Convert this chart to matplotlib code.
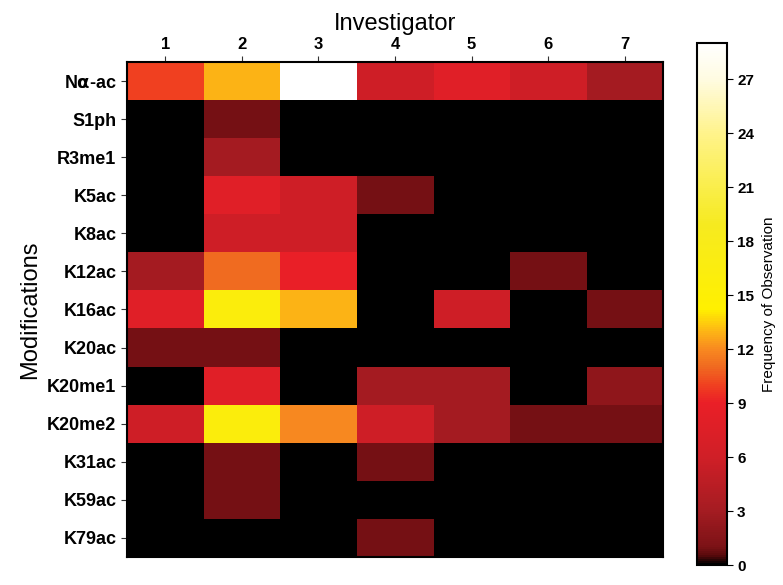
import numpy as np
import matplotlib
matplotlib.use('Agg')
import matplotlib.pyplot as plt
from matplotlib.colors import LinearSegmentedColormap

matplotlib.rcParams['font.family'] = ['Liberation Sans', 'DejaVu Sans']

investigators = ['1', '2', '3', '4', '5', '6', '7']
modifications = [r'N$\mathbf{\alpha}$-ac', 'S1ph', 'R3me1', 'K5ac', 'K8ac', 'K12ac',
                 'K16ac', 'K20ac', 'K20me1', 'K20me2', 'K31ac', 'K59ac', 'K79ac']

# frequency of observation, rows = modifications, cols = investigators 1..7
freq_na_ac  = [10, 13, 29, 6, 8, 6, 3]
freq_s1ph   = [0, 1, 0, 0, 0, 0, 0]
freq_r3me1  = [0, 3, 0, 0, 0, 0, 0]
freq_k5ac   = [0, 8, 6, 1, 0, 0, 0]
freq_k8ac   = [0, 6, 6, 0, 0, 0, 0]
freq_k12ac  = [3, 11, 9, 0, 0, 1, 0]
freq_k16ac  = [8, 16, 13, 0, 6, 0, 1]
freq_k20ac  = [1, 1, 0, 0, 0, 0, 0]
freq_k20me1 = [0, 8, 0, 3, 3, 0, 2]
freq_k20me2 = [6, 16, 12, 6, 3, 1, 1]
freq_k31ac  = [0, 1, 0, 1, 0, 0, 0]
freq_k59ac  = [0, 1, 0, 0, 0, 0, 0]
freq_k79ac  = [0, 0, 0, 1, 0, 0, 0]

data = np.array([freq_na_ac, freq_s1ph, freq_r3me1, freq_k5ac, freq_k8ac,
                 freq_k12ac, freq_k16ac, freq_k20ac, freq_k20me1, freq_k20me2,
                 freq_k31ac, freq_k59ac, freq_k79ac], dtype=float)

vmax = 29.0
nodes = [
    (0.0, '#000000'),
    (0.5, '#5a0a0c'),
    (1.0, '#7c1216'),
    (3.0, '#a51c22'),
    (6.0, '#d01f27'),
    (9.0, '#ea1f27'),
    (10.0, '#f04020'),
    (11.0, '#f06a20'),
    (12.0, '#f88a20'),
    (13.0, '#fdb515'),
    (14.2, '#fff000'),
    (19.0, '#f6ea20'),
    (24.0, '#fff38a'),
    (27.0, '#fffbe0'),
    (29.0, '#ffffff'),
]
cmap = LinearSegmentedColormap.from_list('freq', [(v / vmax, c) for v, c in nodes])

fig = plt.figure(figsize=(7.83, 5.85), dpi=100)
ax = fig.add_axes([0.162, 0.048, 0.685, 0.846])
cax = fig.add_axes([0.890, 0.034, 0.038, 0.892])

im = ax.imshow(data, cmap=cmap, vmin=0, vmax=vmax, aspect='auto',
               interpolation='nearest')

ax.xaxis.tick_top()
ax.xaxis.set_label_position('top')
ax.set_xticks(range(len(investigators)))
ax.set_xticklabels(investigators, fontsize=12, fontweight='bold')
ax.set_yticks(range(len(modifications)))
ax.set_yticklabels(modifications, fontsize=13, fontweight='bold')
ax.set_xlabel('Investigator', fontsize=17, labelpad=5)
ax.set_ylabel('Modifications', fontsize=17, labelpad=4)
ax.tick_params(length=4, width=0.8, colors='#333333', labelcolor='black')
for s in ax.spines.values():
    s.set_linewidth(1.5)

cbar = fig.colorbar(im, cax=cax, ticks=range(0, 28, 3))
cbar.ax.tick_params(labelsize=11, length=4)
for t in cbar.ax.get_yticklabels():
    t.set_fontweight('bold')
cbar.outline.set_linewidth(1.5)
cbar.set_label('Frequency of Observation', fontsize=11, labelpad=6)

fig.savefig('out.png', dpi=100, facecolor='white')
